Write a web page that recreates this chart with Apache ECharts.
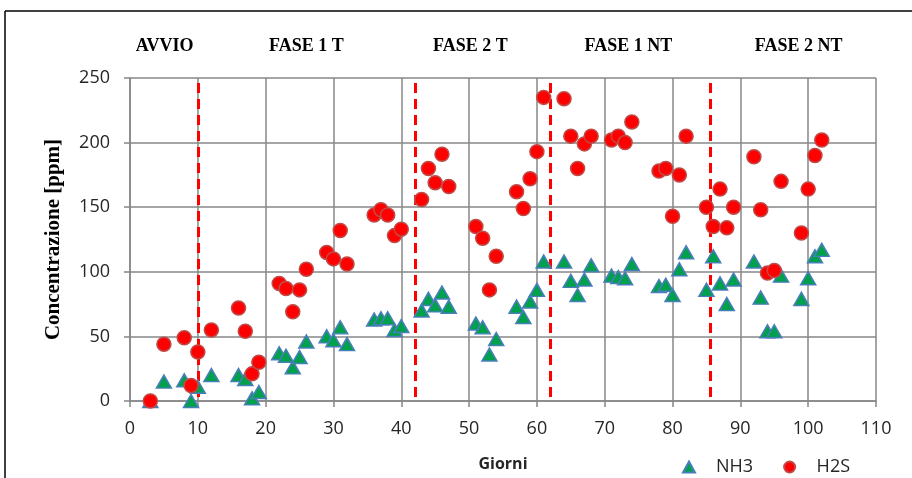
<!DOCTYPE html>
<html>
<head>
<meta charset="utf-8">
<script src="https://cdn.jsdelivr.net/npm/echarts@6/dist/echarts.min.js"></script>
<style>
  html, body { margin: 0; padding: 0; background: #fff; }
  #grafico { width: 912px; height: 478px; }
</style>
</head>
<body>
<div id="grafico"></div>
<script>
// giorni di campionamento
const giorni = [3, 5, 8, 9, 10, 12, 16, 17, 18, 19, 22, 23, 24, 25, 26, 29, 30, 31, 32,
  36, 37, 38, 39, 40, 43, 44, 45, 46, 47, 51, 52, 53, 54, 57, 58, 59, 60, 61,
  64, 65, 66, 67, 68, 71, 72, 73, 74, 78, 79, 80, 81, 82, 85, 86, 87, 88, 89,
  92, 93, 94, 95, 96, 99, 100, 101, 102];

const nh3 = [0, 15, 16, 0, 11, 20, 20, 17, 2, 7, 37, 35, 26, 34, 46, 50, 47, 57, 44,
  63, 64, 64, 55, 58, 70, 79, 74, 84, 73, 60, 57, 36, 48, 73, 65, 77, 86, 108,
  108, 93, 82, 94, 105, 97, 96, 95, 106, 89, 90, 82, 102, 115, 86, 112, 91, 75, 94,
  108, 80, 54, 54, 97, 79, 95, 112, 117];

const h2s = [0, 44, 49, 12, 38, 55, 72, 54, 21, 30, 91, 87, 69, 86, 102, 115, 110, 132, 106,
  144, 148, 144, 128, 133, 156, 180, 169, 191, 166, 135, 126, 86, 112, 162, 149, 172, 193, 235,
  234, 205, 180, 199, 205, 202, 205, 200, 216, 178, 180, 143, 175, 205, 150, 135, 164, 134, 150,
  189, 148, 99, 101, 170, 130, 164, 190, 202];

// cambi di fase (giorno)
const limitiFase = [10, 42, 62, 85.5];
const nomiFase = ["AVVIO", "FASE 1 T", "FASE 2 T", "FASE 1 NT", "FASE 2 NT"];
const centriFase = [5.1, 26, 50.2, 73.5, 98.6];

const xTicks = [0, 110, 10];
const yTicks = [0, 250, 50];

const grigio = "#878787";
const testo = "#262626";

const grafico = echarts.init(document.getElementById("grafico"));

const opciones = {
  animation: false,
  grid: { left: 130, right: 36, top: 78, bottom: 77 },
  xAxis: {
    type: "value",
    min: xTicks[0], max: xTicks[1], interval: xTicks[2],
    name: "Giorni",
    nameLocation: "middle",
    nameGap: 55,
    nameTextStyle: { fontFamily: "Open Sans", fontWeight: "bold", fontSize: 16, color: testo },
    axisLine: { show: true, lineStyle: { color: grigio, width: 1.5 } },
    axisTick: { show: true, length: 6, lineStyle: { color: grigio, width: 1.5 } },
    axisLabel: { fontFamily: "Open Sans", fontSize: 18, color: testo, margin: 19 },
    splitLine: { show: true, lineStyle: { color: grigio, width: 1.5 } }
  },
  yAxis: {
    type: "value",
    min: yTicks[0], max: yTicks[1], interval: yTicks[2],
    name: "Concentrazione [ppm]",
    nameLocation: "middle",
    nameGap: 66,
    nameTextStyle: { fontFamily: "Liberation Serif", fontWeight: "bold", fontSize: 21, color: "#000" },
    axisLine: { show: true, lineStyle: { color: grigio, width: 1.5 } },
    axisTick: { show: true, length: 6, lineStyle: { color: grigio, width: 1.5 } },
    axisLabel: { fontFamily: "Open Sans", fontSize: 18, color: testo, margin: 20 },
    splitLine: { show: true, lineStyle: { color: grigio, width: 1.5 } }
  },
  legend: {
    data: ["NH3", "H2S"],
    left: 677,
    top: 453,
    itemWidth: 12,
    itemHeight: 11,
    itemGap: 30,
    textStyle: { fontFamily: "Open Sans", fontSize: 18, color: testo, padding: [0, 0, 0, 16] }
  },
  series: [
    {
      name: "NH3",
      type: "scatter",
      symbol: "triangle",
      symbolSize: [15, 13],
      itemStyle: { color: "#00A04C", borderColor: "#4A7EBB", borderWidth: 1.5, opacity: 1 },
      data: giorni.map((g, i) => [g, nh3[i]]),
      z: 3
    },
    {
      name: "H2S",
      type: "scatter",
      symbol: "circle",
      symbolSize: 14,
      itemStyle: { color: "#FF0000", borderColor: "#BE4B48", borderWidth: 1.5, opacity: 1 },
      data: giorni.map((g, i) => [g, h2s[i]]),
      z: 4,
      markLine: {
        silent: true,
        symbol: "none",
        label: { show: false },
        lineStyle: { color: "#FF0000", type: [10, 6], width: 3 },
        z: 2,
        data: limitiFase.map(x => [{ coord: [x, 3] }, { coord: [x, 250] }])
      }
    }
  ]
};

grafico.setOption(opciones);

// etichette delle fasi sopra al grafico + cornice
const etichette = nomiFase.map((nome, i) => ({
  type: "text",
  x: grafico.convertToPixel({ xAxisIndex: 0 }, centriFase[i]),
  y: 46,
  style: {
    text: nome,
    fontFamily: "Liberation Serif",
    fontWeight: "bold",
    fontSize: 18,
    fill: "#000",
    align: "center",
    verticalAlign: "middle"
  }
}));

grafico.setOption({
  graphic: etichette.concat([
    { type: "line", shape: { x1: 5, y1: 11, x2: 5, y2: 478 }, style: { stroke: "#000", lineWidth: 1.5 } },
    { type: "line", shape: { x1: 5, y1: 11, x2: 912, y2: 11 }, style: { stroke: "#000", lineWidth: 1.5 } }
  ])
});
</script>
</body>
</html>
